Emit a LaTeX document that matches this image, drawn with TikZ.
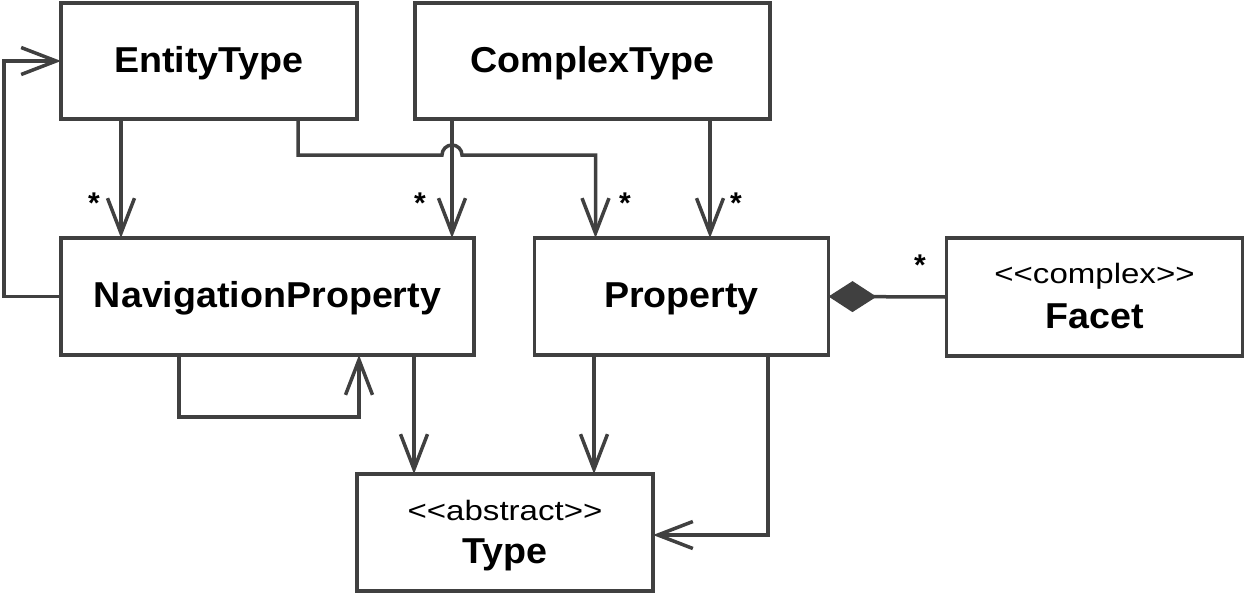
\documentclass[tikz,border=0pt]{standalone}
\usepackage{fontspec}
\setmainfont{Liberation Sans}[Ligatures=TeXOff]
\usetikzlibrary{arrows.meta}
\definecolor{lc}{HTML}{404040}
\newcommand{\bigt}[1]{\scalebox{1.045}[1]{\fontsize{36}{40}\selectfont\bfseries #1}}
\newcommand{\stt}[1]{\scalebox{1.18}[1]{\fontsize{28}{32}\selectfont #1}}
\begin{document}
\begin{tikzpicture}[x=1pt,y=-1pt,
  box/.style={draw=lc, line width=3.5pt, rectangle, inner sep=0pt, outer sep=0pt, align=center, fill=white, text height=30pt, text depth=8pt},
  lab/.style={inner sep=0pt, anchor=base},
  conn/.style={draw=lc, line width=3.5pt, line join=miter, -{Straight Barb[length=35pt,width=27pt,line width=3.5pt]}},
  line/.style={draw=lc, line width=3.5pt, line join=miter},
  mult/.style={font=\fontsize{30}{34}\selectfont\bfseries, inner sep=0pt}]
\path[use as bounding box] (0,0) rectangle (1245,595);
% boxes
\node[box, minimum width=296pt, minimum height=116pt] (ET) at (209,61) {\bigt{EntityType}};
\node[box, minimum width=355pt, minimum height=116pt] (CT) at (592.5,61) {\bigt{ComplexType}};
\node[box, minimum width=413pt, minimum height=117pt] (NP) at (267.5,296.5) {\bigt{NavigationProperty}};
\node[box, minimum width=294pt, minimum height=117pt] (P) at (681.5,296.5) {\bigt{Property}};
\node[box, minimum width=296pt, minimum height=118pt] (F) at (1094.5,297) {};
\node[box, minimum width=296pt, minimum height=117pt] (T) at (505,532.5) {};
\node[lab] (Fs) at (1094.5,283) {\stt{<<complex>>}};
\node[lab] (Fn) at (1094.5,328) {\bigt{Facet}};
\node[lab] (Ts) at (505,520) {\stt{<<abstract>>}};
\node[lab] (Tn) at (505,563) {\bigt{Type}};
% connectors
\draw[conn] ([xshift=-88pt]ET.south) coordinate (a1) -- (a1 |- NP.north);
\draw[conn] ([xshift=-140.5pt]CT.south) coordinate (a2) -- (a2 |- NP.north);
\draw[conn] ([xshift=89pt]ET.south) coordinate (a3) -- (a3 |- 0,155) -- (442,155)
   arc[start angle=180, end angle=0, radius=10pt] -- ([xshift=-86pt]P.north |- 0,155) -- ([xshift=-86pt]P.north);
\draw[conn] ([xshift=117.5pt]CT.south) coordinate (a4) -- (a4 |- P.north);
\draw[conn] (NP.west) -- ++(-57,0) |- (ET.west);
\draw[conn] ([xshift=-88.5pt]NP.south) -- ++(0,62) -| ([xshift=91.5pt]NP.south);
\draw[conn] ([xshift=146.5pt]NP.south) coordinate (a5) -- (a5 |- T.north);
\draw[conn] ([xshift=-87.5pt]P.south) coordinate (a6) -- (a6 |- T.north);
\draw[conn] ([xshift=86.5pt]P.south) -- ++(0,180) coordinate (a7) -- (a7 -| T.east);
\draw[line, {Diamond[length=48pt,width=31pt,line width=0pt,fill=lc]}-] (P.east) -- (F.west);
% multiplicities
\node[mult] (m1) at (94,203) {*};
\node[mult] (m2) at (420,203) {*};
\node[mult] (m3) at (625,203) {*};
\node[mult] (m4) at (736,203) {*};
\node[mult] (m5) at (920,265) {*};
\end{tikzpicture}
\end{document}
